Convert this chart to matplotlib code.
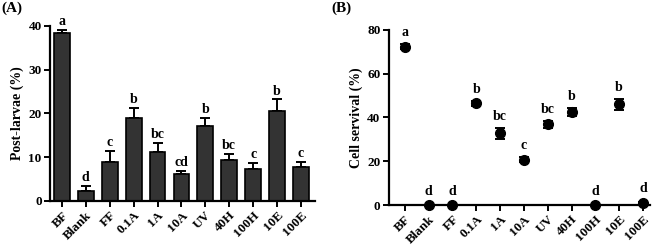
import numpy as np
import matplotlib.pyplot as plt

plt.rcParams['font.family'] = ['Liberation Serif', 'DejaVu Serif']
plt.rcParams['font.weight'] = 'bold'

groups = ['BF', 'Blank', 'FF', '0.1A', '1A', '10A', 'UV', '40H', '100H', '10E', '100E']

# (A) post-larvae
larvae = [38.3, 2.2, 8.9, 18.9, 11.1, 6.1, 17.2, 9.4, 7.2, 20.5, 7.8]
larvae_err = [0.8, 1.2, 2.6, 2.3, 2.1, 0.7, 1.8, 1.4, 1.5, 2.7, 1.2]
larvae_sig = ['a', 'd', 'c', 'b', 'bc', 'cd', 'b', 'bc', 'c', 'b', 'c']

# (B) cell survival
surv = [72.4, 0.0, 0.0, 46.4, 32.7, 20.7, 36.8, 42.7, 0.0, 46.0, 1.0]
surv_err = [1.0, 0.0, 0.0, 1.2, 2.6, 1.2, 1.8, 1.8, 0.0, 2.6, 0.3]
surv_sig = ['a', 'd', 'd', 'b', 'bc', 'c', 'bc', 'b', 'd', 'b', 'd']

x = np.arange(len(groups))

fig = plt.figure(figsize=(6.58, 2.45), dpi=100)
axA = fig.add_axes([0.076, 0.180, 0.403, 0.714])
axB = fig.add_axes([0.591, 0.163, 0.397, 0.715])


def style(ax, ymax, ystep, ylabel):
    for s in ['top', 'right']:
        ax.spines[s].set_visible(False)
    for s in ['left', 'bottom']:
        ax.spines[s].set_linewidth(1.6)
    ax.set_ylim(0, ymax)
    ax.set_yticks(np.arange(0, ymax + 1, ystep))
    ax.set_xticks(x)
    ax.set_xticklabels(groups, rotation=45, ha='right', rotation_mode='anchor',
                       fontsize=9.5, fontweight='bold')
    ax.tick_params(width=1.4, length=4, labelsize=9.5, pad=2)
    for t in ax.get_yticklabels():
        t.set_fontweight('bold')
    ax.set_ylabel(ylabel, fontsize=10, fontweight='bold', labelpad=3)


# panel A
axA.bar(x, larvae, width=0.66, color='#333333', edgecolor='black', linewidth=1.2, zorder=2)
axA.errorbar(x, larvae, yerr=[np.zeros(len(x)), larvae_err], fmt='none',
             ecolor='black', elinewidth=1.4, capsize=3.5, capthick=1.4, zorder=1)
for xi, v, e, s in zip(x, larvae, larvae_err, larvae_sig):
    axA.text(xi, v + e + 0.4, s, ha='center', va='bottom', fontsize=10, fontweight='bold')
axA.set_xlim(-0.5, 10.6)
style(axA, 40, 10, 'Post-larvae (%)')

# panel B
axB.errorbar(x, surv, yerr=surv_err, fmt='o', color='black', markersize=7,
             elinewidth=1.4, capsize=3.5, capthick=1.4, clip_on=False, zorder=3)
for xi, v, e, s in zip(x, surv, surv_err, surv_sig):
    axB.text(xi, v + max(e, 1.2) + 2.2, s, ha='center', va='bottom', fontsize=10, fontweight='bold')
axB.set_xlim(-0.67, 10.3)
style(axB, 80, 20, 'Cell servival (%)')

fig.text(0.002, 0.995, '(A)', ha='left', va='top', fontsize=11, fontweight='bold')
fig.text(0.503, 0.995, '(B)', ha='left', va='top', fontsize=11, fontweight='bold')

fig.savefig('out.png', dpi=100)
